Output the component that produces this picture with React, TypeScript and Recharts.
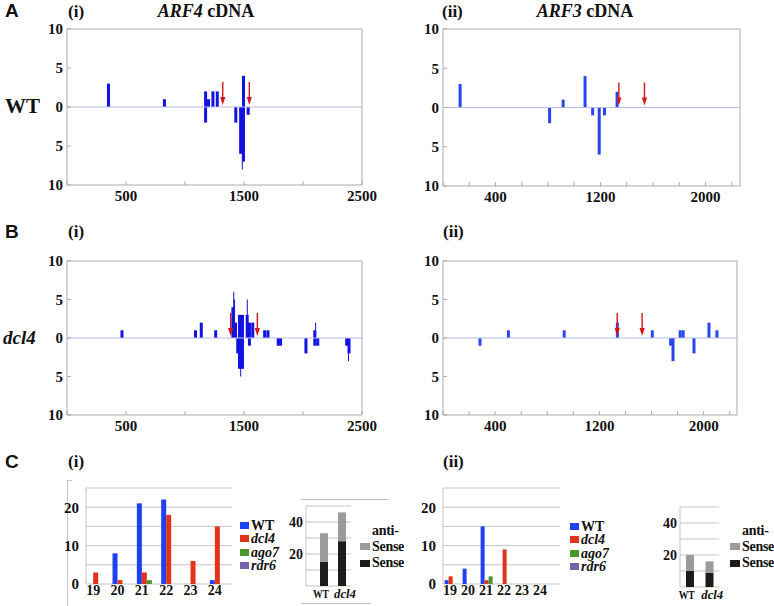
import React from "react";
import {
  ComposedChart, BarChart, Bar, XAxis, YAxis, CartesianGrid,
  Scatter, ReferenceLine,
} from "recharts";

const SERIF = '"Liberation Serif", "Times New Roman", serif';
const SANS  = '"Liberation Sans", Arial, sans-serif';
const INK   = "#111";
const FRAME = "#ababab";
const ZERO  = "#b5b9e6";
const RED   = "#d3161c";
const GRID  = "#c4c4c4";

// ---- A (i): ARF4 cDNA, WT  (read position, reads; + sense / - antisense)
const arf4WtPos       = [352, 826, 1175, 1175, 1200, 1237, 1274, 1431, 1472, 1496, 1496, 1536];
const arf4WtReads     = [3, 1, 2, -2, 1, 2, 2, -2, -6, 4, -7, -1];
const arf4WtThinPos   = [1486];
const arf4WtThinReads = [-8];
const arf4WtArrows    = [1320, 1545];

// ---- A (ii): ARF3 cDNA, WT
const arf3WtPos    = [131, 813, 916, 1083, 1141, 1191, 1231, 1327];
const arf3WtReads  = [3, -2, 1, 4, -1, -6, -1, 2];
const arf3WtArrows = [1340, 1535];

// ---- B (i): ARF4 cDNA, dcl4
const arf4DclPos = [
  466, 1089, 1138, 1260, 1406, 1428, 1447, 1462, 1462, 1487, 1487, 1527,
  1546, 1546, 1574, 1675, 1703, 1790, 1810, 2025, 2100, 2100, 2125, 2370, 2390,
];
const arf4DclReads = [
  1, 1, 2, 1, 4, 2, -2, 3, -4, 3, -4, 3,
  2, -1, 2, 1, 1, -1, -1, -2, 1, -1, -1, -1, -2,
];
const arf4DclThinPos   = [1413, 1420, 1472, 1528, 2107, 2385];
const arf4DclThinReads = [6, 5, -5, 5, 2, -3];
const arf4DclArrows    = [1387, 1613];

// ---- B (ii): ARF3 cDNA, dcl4
const arf3DclPos    = [284, 502, 930, 1338, 1606, 1747, 1765, 1820, 1843, 1926, 2041, 2102];
const arf3DclReads  = [-1, 1, 1, 2, 1, -1, -3, 1, 1, -2, 2, 1];
const arf3DclArrows = [1337, 1528];

// ---- C: small RNA size distribution
const sizeLabels = ["19", "20", "21", "22", "23", "24"];
const arf4SizeWt   = [0, 8, 21, 22, 0, 1];
const arf4SizeDcl4 = [3, 1, 3, 18, 6, 15];
const arf4SizeAgo7 = [0, 0, 1, 0, 0, 0];
const arf4SizeRdr6 = [0, 0, 0, 0, 0, 0];
const arf3SizeWt   = [1, 4, 15, 0, 0, 0];
const arf3SizeDcl4 = [2, 0, 1, 9, 0, 0];
const arf3SizeAgo7 = [0, 0, 2, 0, 0, 0];
const arf3SizeRdr6 = [0, 0, 0, 0, 0, 0];

const strandLabels = ["WT", "dcl4"];
const arf4Sense = [15, 28];
const arf4Anti  = [18, 18];
const arf3Sense = [10, 9];
const arf3Anti  = [10, 7];

const seriesColors = { WT: "#2140ef", dcl4: "#e2331a", ago7: "#48982e", rdr6: "#7262a8" };
const SENSE_C = "#1b1b1b";
const ANTI_C  = "#9b9b9b";

const axisFont = { fontFamily: SERIF, fontWeight: 700, fontSize: 15, fill: INK };

function Label({ x, y, size = 17, family = SERIF, italic = false, center = false, children }: {
  x: number; y: number; size?: number; family?: string; italic?: boolean; center?: boolean;
  children: React.ReactNode;
}) {
  return (
    <div style={{
      position: "absolute", left: x, top: y - size * 0.6, fontSize: size,
      lineHeight: `${size * 1.2}px`, fontFamily: family, fontWeight: 700,
      fontStyle: italic ? "italic" : "normal", whiteSpace: "nowrap", color: INK,
      transform: center ? "translateX(-50%)" : undefined,
    }}>
      {children}
    </div>
  );
}

const Arrow = (p: any) => {
  const { cx, cy } = p;
  return (
    <g>
      <line x1={cx} x2={cx} y1={cy - 25} y2={cy - 8} stroke={RED} strokeWidth={1.4} />
      <path d={`M${cx - 2.6},${cy - 10} L${cx + 2.6},${cy - 10} L${cx},${cy - 2} Z`} fill={RED} />
    </g>
  );
};

// bars are centred on the library's x; width fixed at 3px (1px for the thin spikes)
const barShape = (color: string) => (p: any) => {
  const top = Math.min(p.y, p.y + p.height);
  const hh = Math.abs(p.height);
  const mid = p.x + p.width / 2;
  const bw = p.payload?.thin ? 1 : 3;
  return <rect x={mid - bw / 2} y={top} width={bw} height={hh} fill={color} />;
};

function CoverageChart(props: {
  x: number; y: number; w: number; h: number; xMax: number;
  ticks: number[]; labels: number[]; color: string;
  pos: number[]; reads: number[]; thinPos?: number[]; thinReads?: number[]; arrows: number[];
}) {
  const { x, y, w, h, xMax, ticks, labels, color } = props;
  const thinPos = props.thinPos ?? [];
  const thinReads = props.thinReads ?? [];
  const data = [
    ...thinPos.map((p, i) => ({ pos: p, reads: thinReads[i], thin: true })),
    ...props.pos.map((p, i) => ({ pos: p, reads: props.reads[i], thin: false })),
  ];
  const arrowData = props.arrows.map((p) => ({ pos: p, reads: 0 }));
  const YW = 34, MT = 10, MR = 24, XH = 28;
  const yTicks = [-10, -5, 0, 5, 10];

  return (
    <div style={{ position: "absolute", left: x - YW, top: y - MT }}>
      <ComposedChart width={YW + w + MR} height={MT + h + XH} data={data}
        margin={{ top: MT, right: MR, bottom: 0, left: 0 }}>
        <XAxis dataKey="pos" type="number" domain={[0, xMax]} ticks={ticks}
          interval={0} height={XH} tickSize={-4} tickMargin={9}
          tickFormatter={(v) => (labels.includes(v) ? String(v) : "")}
          axisLine={{ stroke: FRAME }} tickLine={{ stroke: FRAME }} tick={axisFont} />
        <YAxis type="number" domain={[-10, 10]} ticks={yTicks} interval={0}
          width={YW} tickSize={-4} tickMargin={8}
          tickFormatter={(v) => String(Math.abs(v))}
          axisLine={{ stroke: FRAME }} tickLine={{ stroke: FRAME }} tick={axisFont} />
        <ReferenceLine y={10} stroke={FRAME} />
        <ReferenceLine x={xMax} stroke={FRAME} />
        <ReferenceLine y={0} stroke={ZERO} strokeWidth={1.2} />
        <Bar dataKey="reads" barSize={3} fill={color}
          shape={barShape(color)} isAnimationActive={false} />
        <Scatter data={arrowData} dataKey="reads" shape={Arrow} isAnimationActive={false} />
      </ComposedChart>
    </div>
  );
}

function SizeChart(props: {
  x: number; y: number; w: number; h: number; padRight: number; dx: number;
  wt: number[]; dcl4: number[]; ago7: number[]; rdr6: number[];
}) {
  const { x, y, w, h, padRight, dx } = props;
  const data = sizeLabels.map((s, i) => ({
    size: s, WT: props.wt[i], dcl4: props.dcl4[i], ago7: props.ago7[i], rdr6: props.rdr6[i],
  }));
  const YW = 30, MT = 8, MR = 4, XH = 20;
  return (
    <div style={{ position: "absolute", left: x - YW, top: y - MT }}>
      <BarChart width={YW + w + MR} height={MT + h + XH} data={data}
        margin={{ top: MT, right: MR, bottom: 0, left: 0 }} barCategoryGap="9%" barGap={0}>
        <CartesianGrid vertical={false} stroke={GRID} />
        <XAxis dataKey="size" padding={{ left: 0, right: padRight }} tickLine={false}
          axisLine={false} height={XH} tickSize={0} tickMargin={1} interval={0}
          tick={{ ...axisFont, fontSize: 14, dx }} />
        <YAxis type="number" domain={[0, 25]} ticks={[0, 5, 10, 15, 20, 25]} interval={0}
          width={YW} tickSize={0} tickMargin={7} tickLine={false}
          tickFormatter={(v) => (v % 10 === 0 ? String(v) : "")}
          axisLine={{ stroke: GRID }} tick={{ ...axisFont, fontSize: 15 }} />
        <Bar dataKey="WT" fill={seriesColors.WT} isAnimationActive={false} />
        <Bar dataKey="dcl4" fill={seriesColors.dcl4} isAnimationActive={false} />
        <Bar dataKey="ago7" fill={seriesColors.ago7} isAnimationActive={false} />
        <Bar dataKey="rdr6" fill={seriesColors.rdr6} isAnimationActive={false} />
      </BarChart>
    </div>
  );
}

const StrandTick = (p: any) => {
  const v = p.payload?.value;
  const italic = v === "dcl4";
  return (
    <text x={p.x + (italic ? 3 : -3)} y={p.y} dy="0.71em" textAnchor="middle" fontFamily={SERIF}
      fontWeight={700} fontSize={13} fontStyle={italic ? "italic" : "normal"} fill={INK}
      textLength={italic ? 22 : 16} lengthAdjust="spacingAndGlyphs">
      {v}
    </text>
  );
};

function StrandChart(props: {
  x: number; y: number; w: number; h: number; padLeft: number;
  sense: number[]; anti: number[];
}) {
  const { x, y, w, h, padLeft } = props;
  const data = strandLabels.map((g, i) => ({ g, sense: props.sense[i], anti: props.anti[i] }));
  const YW = 30, MT = 8, MR = 12, XH = 20;
  return (
    <div style={{ position: "absolute", left: x - YW, top: y - MT }}>
      <BarChart width={YW + w + MR} height={MT + h + XH} data={data}
        margin={{ top: MT, right: MR, bottom: 0, left: 0 }} barSize={8}>
        <CartesianGrid vertical={false} stroke={GRID} />
        <XAxis dataKey="g" padding={{ left: padLeft, right: 0 }} tickLine={false}
          axisLine={false} height={XH} tickSize={0} tickMargin={3} interval={0}
          tick={<StrandTick />} />
        <YAxis type="number" domain={[0, 50]} ticks={[0, 10, 20, 30, 40, 50]} interval={0}
          width={YW} tickSize={0} tickMargin={3} tickLine={false}
          tickFormatter={(v) => (v === 20 || v === 40 ? String(v) : "")}
          axisLine={{ stroke: GRID }} tick={{ ...axisFont, fontSize: 14 }} />
        <Bar dataKey="sense" stackId="s" fill={SENSE_C} isAnimationActive={false} />
        <Bar dataKey="anti" stackId="s" fill={ANTI_C} isAnimationActive={false} />
      </BarChart>
    </div>
  );
}

function SizeLegend({ x, y }: { x: number; y: number }) {
  const items: [string, string, boolean][] = [
    ["WT", seriesColors.WT, false],
    ["dcl4", seriesColors.dcl4, true],
    ["ago7", seriesColors.ago7, true],
    ["rdr6", seriesColors.rdr6, true],
  ];
  return (
    <>
      {items.map(([name, c, it], i) => (
        <div key={name} style={{ position: "absolute", left: x, top: y + i * 13.5 - 6.5,
          height: 13, lineHeight: "13px", display: "flex", alignItems: "center",
          fontFamily: SERIF, fontWeight: 700, fontSize: 14,
          fontStyle: it ? "italic" : "normal", color: INK, whiteSpace: "nowrap" }}>
          <span style={{ display: "inline-block", width: 9, height: 7, background: c, marginRight: 2 }} />
          {name}
        </div>
      ))}
    </>
  );
}

function StrandLegend({ x, y }: { x: number; y: number }) {
  const row = (top: number, c: string | null, text: string) => (
    <div style={{ position: "absolute", left: x, top: top - 7, height: 14, lineHeight: "14px",
      display: "flex", alignItems: "center", fontFamily: SERIF, fontWeight: 700, fontSize: 14,
      color: INK, whiteSpace: "nowrap", letterSpacing: -0.3 }}>
      <span style={{ display: "inline-block", width: 10, height: 7, marginRight: 2,
        background: c ?? "transparent" }} />
      {text}
    </div>
  );
  return (
    <>
      {row(y, null, "anti-")}
      {row(y + 15.5, ANTI_C, "Sense")}
      {row(y + 32, SENSE_C, "Sense")}
    </>
  );
}

export default function App() {
  const ticksI = [0, 500, 1000, 1500, 2000, 2500];
  const labelsI = [500, 1500, 2500];
  const ticksII = [0, 200, 400, 600, 800, 1000, 1200, 1400, 1600, 1800, 2000, 2200];
  const labelsII = [400, 1200, 2000];

  return (
    <div style={{ position: "absolute", left: 0, top: 0, width: 774, height: 606,
      background: "#fff", overflow: "hidden" }}>
      {/* row A */}
      <Label x={5} y={11} size={19} family={SANS}>A</Label>
      <Label x={68} y={12}>(i)</Label>
      <Label x={206} y={12} size={18} center><i>ARF4</i> cDNA</Label>
      <Label x={442} y={12}>(ii)</Label>
      <Label x={585} y={12} size={18} center><i>ARF3</i> cDNA</Label>
      <Label x={5} y={107} size={21}>WT</Label>

      <CoverageChart x={67} y={29} w={295} h={156} xMax={2500} ticks={ticksI} labels={labelsI}
        color="#1212e2" pos={arf4WtPos} reads={arf4WtReads}
        thinPos={arf4WtThinPos} thinReads={arf4WtThinReads} arrows={arf4WtArrows} />
      <CoverageChart x={443} y={29} w={297} h={157} xMax={2263} ticks={ticksII} labels={labelsII}
        color="#2a45ee" pos={arf3WtPos} reads={arf3WtReads} arrows={arf3WtArrows} />

      {/* row B */}
      <Label x={5} y={232} size={19} family={SANS}>B</Label>
      <Label x={68} y={232}>(i)</Label>
      <Label x={443} y={232}>(ii)</Label>
      <Label x={3} y={338} size={19} italic>dcl4</Label>

      <CoverageChart x={67} y={261} w={295} h={154} xMax={2500} ticks={ticksI} labels={labelsI}
        color="#1212e2" pos={arf4DclPos} reads={arf4DclReads}
        thinPos={arf4DclThinPos} thinReads={arf4DclThinReads} arrows={arf4DclArrows} />
      <CoverageChart x={443} y={261} w={294} h={154} xMax={2256} ticks={ticksII} labels={labelsII}
        color="#2a45ee" pos={arf3DclPos} reads={arf3DclReads} arrows={arf3DclArrows} />

      {/* row C */}
      <Label x={5} y={462} size={19} family={SANS}>C</Label>
      <Label x={68} y={462}>(i)</Label>
      <Label x={443} y={462}>(ii)</Label>

      <div style={{ position: "absolute", left: 67, top: 480, width: 4, height: 126,
        borderLeft: `1px solid ${GRID}`, borderTop: `1px solid ${GRID}` }} />
      <div style={{ position: "absolute", left: 301, top: 499, width: 88, borderTop: `1px solid ${GRID}` }} />
      <div style={{ position: "absolute", left: 301, top: 603, width: 70, borderTop: `1px solid ${GRID}` }} />

      <SizeChart x={86} y={488} w={146} h={96} padRight={0} dx={-5}
        wt={arf4SizeWt} dcl4={arf4SizeDcl4} ago7={arf4SizeAgo7} rdr6={arf4SizeRdr6} />
      <SizeLegend x={240} y={525} />
      <StrandChart x={306} y={506} w={45} h={80} padLeft={9} sense={arf4Sense} anti={arf4Anti} />
      <StrandLegend x={360} y={531} />

      <SizeChart x={443} y={488} w={117} h={96} padRight={9} dx={-2}
        wt={arf3SizeWt} dcl4={arf3SizeDcl4} ago7={arf3SizeAgo7} rdr6={arf3SizeRdr6} />
      <SizeLegend x={570} y={526} />
      <StrandChart x={680} y={507} w={39} h={80} padLeft={0} sense={arf3Sense} anti={arf3Anti} />
      <StrandLegend x={730} y={531} />
    </div>
  );
}
